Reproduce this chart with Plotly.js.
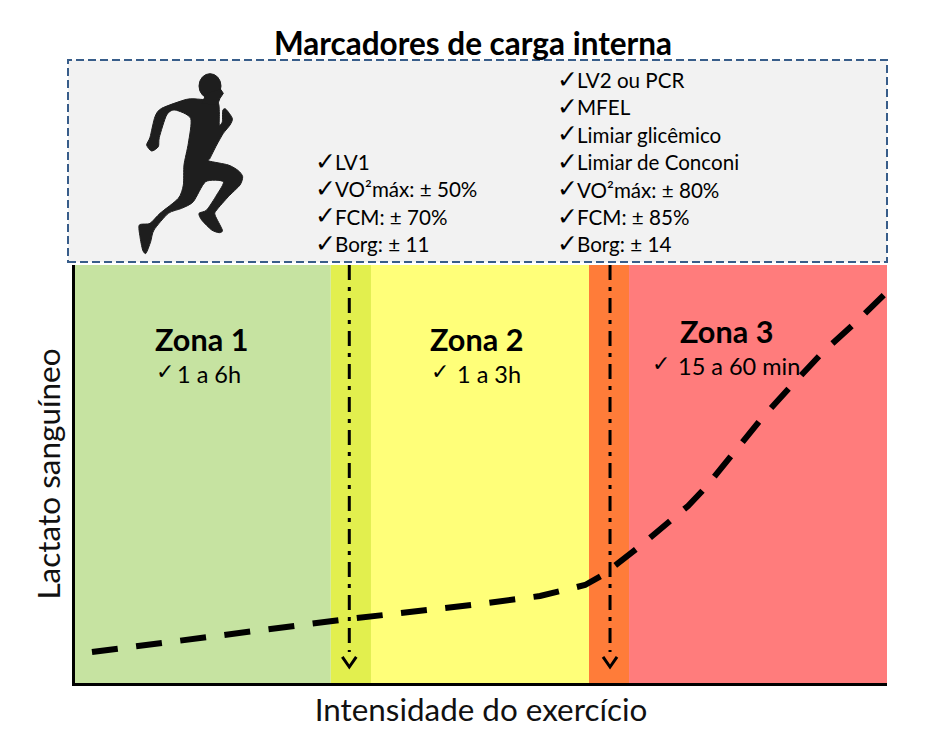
<!DOCTYPE html>
<html><head><meta charset="utf-8">
<script src="https://cdn.plot.ly/plotly-3.0.1.min.js"></script>
<style>html,body{margin:0;padding:0;background:#fff}#c{width:935px;height:749px}</style>
</head><body><div id="c"></div>
<script>
// --- data (x: exercise intensity 0-100, y: blood lactate 0-100) ---
var zoneNames = ["Zona 1","Transição 1","Zona 2","Transição 2","Zona 3"];
var zoneStart = [0, 31.5, 36.45, 63.3, 68.23];
var zoneEnd   = [31.5, 36.45, 63.3, 68.23, 100];
var zoneColors = ["#C6E3A1","#E2EF4E","#FFFF79","#FF7C39","#FF7C7C"];
var lactateX = [2.09, 16.26, 32.64, 49.88, 57.27, 62.81, 65.02, 69.46, 75.49, 77.59, 84.61, 88.3, 92.0, 96.06, 100];
var lactateY = [7.42, 11.0, 15.07, 18.9, 20.81, 23.44, 25.84, 32.54, 42.34, 46.65, 63.4, 71.29, 78.95, 86.12, 93.54];
var thresholdX = [33.78, 65.89];
var thresholdTop = 100;
var thresholdBottom = 7.42;
var arrowTip = 3.83;
var title = "Marcadores de carga interna";
var xTitle = "Intensidade do exercício";
var yTitle = "\u00a0Lactato sanguíneo";
var lv1Items = ["LV1","VO²máx: ± 50%","FCM: ± 70%","Borg: ± 11"];
var lv2Items = ["LV2 ou PCR","MFEL","Limiar glicêmico","Limiar de Conconi","VO²máx: ± 80%","FCM: ± 85%","Borg: ± 14"];
var zoneLabels = ["Zona 1","Zona 2","Zona 3"];
var zoneDurations = ["1 a 6h","1 a 3h","15 a 60 min"];

// --- layout helpers ---
var L=75,R=887,T=265,B=683,W=R-L,H=B-T;
function px(x){return (x-L)/W;}
function py(y){return (B-y)/H;}
var FONT="Lato, Carlito, sans-serif";
var annotations=[];
function note(text,x,y,size,anchor,bold){
  annotations.push({xref:"paper",yref:"paper",x:px(x),y:py(y),text:bold?"<b>"+text+"</b>":text,showarrow:false,
    xanchor:anchor,yanchor:"middle",font:{family:FONT,size:size,color:"#000"},borderpad:0,borderwidth:0});
}
function check(x,y,size){
  annotations.push({xref:"paper",yref:"paper",x:px(x),y:py(y),text:"✓",showarrow:false,xanchor:"left",yanchor:"middle",
    font:{family:"DejaVu Sans",size:size,color:"#000"},borderpad:0,borderwidth:0});
}
lv1Items.forEach(function(t,i){var y=162+i*27.4;check(315,y-1,25);note(t,335,y,20.6,"left");});
lv2Items.forEach(function(t,i){var y=80+i*27.4;check(557,y-1,25);note(t,577,y,20.6,"left");});
var zx=[201,476,726], zy=[339,339,331], cx=[156,431,652], tx=[177,457,678];
zoneLabels.forEach(function(t,i){
  note(t,zx[i],zy[i],30.6,"center",true);
  check(cx[i],zy[i]+32,22);
  note(zoneDurations[i],tx[i],zy[i]+35,23.5,"left");
});

// runner silhouette: smooth outline through traced points (900x690 canvas at 3x)
var pts=[[472,155],[478,185],[478,225],[487,215],[488,182],[497,177],[517,205],[510,225],[490,250],[470,285],[450,325],[447,333],[505,345],[535,362],[548,380],[540,405],[505,440],[470,480],[465,495],[487,540],[478,548],[455,540],[425,510],[417,490],[440,480],[470,435],[490,395],[437,395],[400,455],[365,475],[325,490],[282,540],[272,575],[258,610],[248,600],[240,560],[238,525],[270,520],[300,490],[355,445],[370,405],[372,345],[385,280],[392,205],[345,180],[320,195],[298,262],[295,290],[275,303],[260,285],[270,262],[285,200],[305,175],[380,148],[422,148]];
function smooth(p){
  var n=p.length,d="M"+p[0][0]+" "+p[0][1];
  for(var i=0;i<n;i++){
    var a=p[(i-1+n)%n],b=p[i],c=p[(i+1)%n],e=p[(i+2)%n],k=0.12;
    d+=" C"+(b[0]+(c[0]-a[0])*k)+" "+(b[1]+(c[1]-a[1])*k)+" "+(c[0]-(e[0]-b[0])*k)+" "+(c[1]-(e[1]-b[1])*k)+" "+c[0]+" "+c[1];
  }
  return d+" Z";
}
var svg="<svg xmlns='http://www.w3.org/2000/svg' viewBox='0 0 900 690' width='900' height='690'><g fill='#1e1e1e' stroke='#1e1e1e' stroke-width='3' stroke-linejoin='round'><path d='"+smooth(pts)+"'/><ellipse cx='450' cy='108' rx='33' ry='37'/><path d='M440 130 L482 118 L490 130 L480 145 L472 165 L425 160 Z'/></g></svg>";

var lineDash="15px,7px,4px,7px";
var traces=[
 {type:"bar",name:"Zonas",x:zoneStart.map(function(s,i){return (s+zoneEnd[i])/2;}),
  y:zoneStart.map(function(){return 100;}),width:zoneStart.map(function(s,i){return zoneEnd[i]-s;}),
  text:zoneNames,textposition:"none",marker:{color:zoneColors,line:{width:0}},hoverinfo:"text"}
];
thresholdX.forEach(function(x,i){
  traces.push({type:"scatter",mode:"lines",name:"Limiar "+(i+1),x:[x,x],y:[thresholdTop,thresholdBottom],
    line:{color:"#000",width:3,dash:lineDash}});
  traces.push({type:"scatter",mode:"lines",name:"Seta "+(i+1),x:[x-0.86,x,x+0.86],y:[arrowTip+2.4,arrowTip,arrowTip+2.4],
    line:{color:"#000",width:3}});
});
traces.push({type:"scatter",mode:"lines",name:"Lactato",x:lactateX,y:lactateY,
  line:{color:"#000",width:6,dash:"26px,18.5px",shape:"linear"}});

var layout={
  width:935,height:749,paper_bgcolor:"#fff",plot_bgcolor:"#fff",showlegend:false,
  margin:{l:L,r:935-R,t:T,b:749-B,pad:0},
  font:{family:FONT,color:"#000"},
  title:{text:"<b>"+title+"</b>",x:473/935,xref:"container",xanchor:"center",y:1-44/749,yref:"container",yanchor:"middle",
    font:{family:FONT,size:31.5,color:"#000"}},
  xaxis:{range:[0,100],showgrid:false,zeroline:false,showticklabels:false,ticks:"",showline:true,linecolor:"#000",linewidth:3,
    title:{text:xTitle,standoff:15,font:{family:FONT,size:31.4,color:"#111"}}},
  yaxis:{range:[0,100],showgrid:false,zeroline:false,showticklabels:false,ticks:"",showline:true,linecolor:"#000",linewidth:3,
    title:{text:yTitle,standoff:2,font:{family:FONT,size:31.5,color:"#111"}}},
  shapes:[{type:"rect",xref:"paper",yref:"paper",x0:px(68),x1:px(887),y0:py(262),y1:py(60),layer:"below",
    fillcolor:"#F2F2F2",line:{color:"#385D8A",width:2,dash:"8px,4px"}}],
  images:[{source:"data:image/svg+xml;charset=utf-8,"+encodeURIComponent(svg),xref:"paper",yref:"paper",x:px(60),y:py(50),
    sizex:300/W,sizey:230/H,xanchor:"left",yanchor:"top",sizing:"stretch",layer:"above"}],
  annotations:annotations
};
Plotly.newPlot("c",traces,layout,{displayModeBar:false,staticPlot:true});
</script></body></html>
